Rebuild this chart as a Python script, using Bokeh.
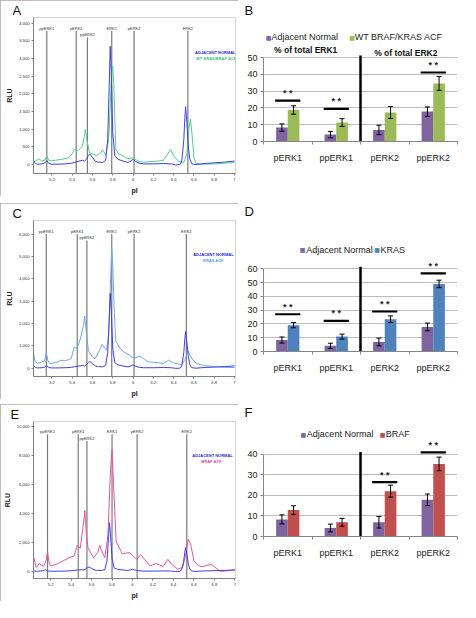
import numpy as np
from bokeh.plotting import figure
from bokeh.models import (Range1d, FixedTicker, NumeralTickFormatter, Label,
                          Whisker, ColumnDataSource, TeeHead, Spacer)
from bokeh.layouts import row, column
from bokeh.embed import file_html
from bokeh.resources import INLINE

FONT = "Liberation Sans"

# ------------------------------------------------------------------ data
peak_names = ["ppERK1", "pERK1", "ppERK2", "ERK1", "pERK2", "ERK2"]
peak_pi_A = [5.15, 5.44, 5.55, 5.79, 6.01, 6.54]
peak_pi_C = [5.145, 5.45, 5.545, 5.79, 6.01, 6.525]
peak_pi_E = [5.17, 5.47, 5.555, 5.80, 6.045, 6.53]

x_tick_vals = [5.2, 5.4, 5.6, 5.8, 6.0, 6.2, 6.4, 6.6, 6.8, 7.0]
x_tick_labels = ["5.2", "5.4", "5.6", "5.8", "6", "6.2", "6.4", "6.6", "6.8", "7"]
y_ticks_A = [0, 500, 1000, 1500, 2000, 2500, 3000, 3500, 4000]
y_ticks_C = [0, 1000, 2000, 3000, 4000, 5000, 6000]
y_ticks_E = [0, 2000, 4000, 6000, 8000, 10000]

# adjacent normal trace (same sample in A, C, E)
normal_pi = [5.02, 5.04, 5.06, 5.10, 5.13, 5.15, 5.17, 5.20, 5.30, 5.38, 5.42, 5.46,
             5.50, 5.52, 5.54, 5.56, 5.575, 5.60, 5.63, 5.66, 5.70, 5.73, 5.75, 5.765,
             5.775, 5.785, 5.80, 5.82, 5.85, 5.90, 5.95, 5.98, 6.00, 6.02, 6.05, 6.10,
             6.20, 6.30, 6.38, 6.42, 6.46, 6.48, 6.50, 6.51, 6.518, 6.53, 6.545, 6.56,
             6.58, 6.62, 6.70, 6.80, 6.90, 7.00]
normal_rlu = [100, 30, 10, 20, 50, 110, 30, 10, 15, 30, 60, 90,
              120, 100, 150, 260, 300, 200, 90, 70, 60, 120, 700, 2200,
              3350, 2600, 900, 250, 150, 100, 60, 100, 150, 100, 50, 20,
              20, 30, 20, -10, 0, 100, 700, 1300, 1640, 1200, 500, 150,
              20, 0, 30, 50, 70, 100]

# WT KRAS/BRAF ACF trace (A)
wt_pi = [5.02, 5.05, 5.07, 5.10, 5.13, 5.15, 5.17, 5.20, 5.30, 5.36, 5.40, 5.42,
         5.46, 5.50, 5.52, 5.53, 5.545, 5.57, 5.60, 5.64, 5.68, 5.70, 5.73, 5.76,
         5.78, 5.79, 5.80, 5.81, 5.83, 5.86, 5.90, 5.95, 6.00, 6.02, 6.06, 6.11,
         6.21, 6.30, 6.34, 6.37, 6.40, 6.45, 6.50, 6.53, 6.55, 6.565, 6.58, 6.60,
         6.62, 6.70, 6.80, 6.90, 7.00]
wt_rlu = [70, 120, 160, 110, 120, 250, 120, 110, 150, 190, 300, 430,
          400, 520, 800, 995, 700, 340, 300, 255, 330, 417, 270, 700,
          2000, 2600, 2790, 2300, 430, 300, 250, 170, 190, 150, 80, 70,
          90, 120, 300, 433, 250, 90, 60, 300, 1000, 1290, 900, 200,
          30, 10, 20, 40, 60]

# KRAS ACF trace (C)
kras_pi = [5.02, 5.035, 5.06, 5.10, 5.13, 5.145, 5.16, 5.18, 5.24, 5.29, 5.33, 5.39,
           5.42, 5.45, 5.48, 5.51, 5.524, 5.54, 5.56, 5.60, 5.625, 5.66, 5.695, 5.72,
           5.74, 5.76, 5.78, 5.79, 5.80, 5.815, 5.83, 5.87, 5.91, 5.96, 6.00, 6.03,
           6.07, 6.11, 6.15, 6.24, 6.30, 6.35, 6.41, 6.48, 6.51, 6.54, 6.56, 6.59,
           6.63, 6.68, 6.78, 6.94, 7.00]
kras_rlu = [650, 280, 210, 280, 350, 714, 350, 200, 250, 355, 330, 420,
            926, 900, 1300, 1900, 2330, 1600, 784, 500, 428, 700, 1071, 900,
            814, 1500, 4200, 5357, 4600, 2500, 1213, 900, 714, 600, 455, 480,
            540, 400, 283, 250, 210, 355, 210, 170, 350, 784, 600, 355,
            200, 140, 70, 30, 30]

# BRAF ACF trace (E)
braf_pi = [5.03, 5.06, 5.09, 5.13, 5.155, 5.17, 5.185, 5.20, 5.26, 5.32, 5.38, 5.43,
           5.46, 5.49, 5.515, 5.535, 5.55, 5.565, 5.62, 5.66, 5.68, 5.70, 5.73, 5.76,
           5.785, 5.80, 5.815, 5.84, 5.90, 5.97, 6.00, 6.04, 6.08, 6.12, 6.17, 6.23,
           6.30, 6.345, 6.38, 6.44, 6.49, 6.52, 6.545, 6.57, 6.60, 6.64, 6.68, 6.77,
           6.82, 6.86, 6.90, 7.00]
braf_rlu = [1120, 270, 537, 340, 700, 1342, 600, 380, 500, 716, 940, 1050,
            1790, 1600, 3000, 4190, 2500, 1610, 940, 1300, 1790, 1400, 940, 2500,
            7000, 8370, 6000, 2060, 1210, 1290, 1100, 830, 1150, 800, 380, 540,
            340, 830, 500, 160, 270, 1200, 2200, 1800, 716, 400, 320, 497,
            200, 0, 20, 100]

# bar charts (% of total ERK1 / ERK2)
categories = ["pERK1", "ppERK1", "pERK2", "ppERK2"]
normal_mean = [8.3, 4.1, 6.9, 17.8]
normal_err = [2.2, 1.9, 2.8, 2.8]
wt_mean = [18.8, 11.3, 17.3, 34.6]
wt_err = [2.5, 2.3, 3.5, 4.1]
kras_mean = [19.1, 10.8, 23.4, 49.0]
kras_err = [1.9, 1.8, 2.4, 2.7]
braf_mean = [12.8, 6.9, 22.0, 35.2]
braf_err = [2.1, 1.9, 2.9, 3.3]
y_ticks_B = [0, 10, 20, 30, 40, 50]
y_ticks_D = [0, 10, 20, 30, 40, 50, 60]
y_ticks_F = [0, 10, 20, 30, 40]
sig_B_idx = [0, 1, 3]
sig_B_y = [24.3, 19.4, 41.1]
sig_D_idx = [0, 1, 2, 3]
sig_D_y = [27.0, 22.2, 29.0, 56.7]
sig_F_idx = [2, 3]
sig_F_y = [26.4, 40.8]

# ------------------------------------------------------------------ colours
NORMAL_C = "#3f3fe6"
WT_C = "#4fd38c"
KRAS_C = "#6aaaf2"
BRAF_C = "#f0529c"
PURPLE = "#8064A2"
GREEN = "#9BBB59"
BLUE = "#4F81BD"
RED = "#C0504D"

LEFT_W, RIGHT_W = 238, 222
TOP = 16   # room for the panel letter (title)


def letter_title(p, letter, offset):
    p.title.text = letter
    p.title.align = "left"
    p.title.offset = offset
    p.title.standoff = 0
    p.title.text_font = FONT
    p.title.text_font_size = "13px"
    p.title.text_font_style = "normal"
    p.title.text_color = "#111111"


# ------------------------------------------------------------------ chromatogram panels
def chrom(height, bottom, left, right, xmap, ymap, frame_ref, acf_pi, acf_rlu,
          acf_color, yticks, peak_pi, lab_ref, legend, letter):
    fx0, fx1, fy0, fy1 = frame_ref  # reference-pixel frame edges
    p = figure(width=LEFT_W, height=height,
               x_range=Range1d(xmap(fx0), xmap(fx1)),
               y_range=Range1d(ymap(fy1), ymap(fy0)),
               output_backend="svg", toolbar_location=None,
               min_border_left=left, min_border_right=right,
               min_border_top=TOP, min_border_bottom=bottom)
    p.styles = {"outline": "1px solid #a9a9a9", "outline-offset": "-1px"}
    letter_title(p, letter, 4 - left)
    p.grid.visible = False
    p.outline_line_color = "#d4d4d4"
    p.axis.axis_line_color = "#808080"
    p.axis.major_tick_line_color = "#808080"
    p.axis.major_tick_out = 2
    p.axis.major_tick_in = 0
    p.axis.minor_tick_line_color = None
    p.axis.major_label_text_font = FONT
    p.axis.major_label_text_font_size = "4.2px"
    p.axis.major_label_text_color = "#333333"
    p.axis.major_label_standoff = 2
    p.axis.axis_label_text_font = FONT
    p.axis.axis_label_text_font_size = "7px"
    p.axis.axis_label_text_font_style = "bold"
    p.axis.axis_label_text_color = "#222222"
    p.xaxis.ticker = FixedTicker(ticks=x_tick_vals)
    p.xaxis.major_label_overrides = dict(zip(x_tick_vals, x_tick_labels))
    p.xaxis.axis_label = "pI"
    p.xaxis.axis_label_standoff = 3
    p.yaxis.ticker = FixedTicker(ticks=yticks)
    p.yaxis.formatter = NumeralTickFormatter(format="0,0")
    p.yaxis.axis_label = "RLU"
    p.yaxis.axis_label_standoff = 3

    y_lo = ymap(fy1)
    lab_y, lab_y_low = ymap(lab_ref[0]), ymap(lab_ref[1])
    top_y, top_y_low = ymap(lab_ref[0] + 3), ymap(lab_ref[1] + 3)
    for nm, px in zip(peak_names, peak_pi):
        low = (nm == "ppERK2")
        p.segment(x0=px, y0=y_lo, x1=px, y1=top_y_low if low else top_y,
                  line_color="#7a7a7a", line_width=1.2)
        p.add_layout(Label(x=px, y=lab_y_low if low else lab_y, text=nm,
                           text_font=FONT, text_font_size="4px",
                           text_color="#333333", text_align="center",
                           text_baseline="middle"))

    p.line(acf_pi, acf_rlu, line_color=acf_color, line_width=1)
    p.line(normal_pi, normal_rlu, line_color=NORMAL_C, line_width=1)

    for (txt, col, rx, ry, align) in legend:
        p.add_layout(Label(x=xmap(rx), y=ymap(ry), text=txt, text_color=col,
                           text_font=FONT, text_font_size="4px",
                           text_font_style="bold", text_align=align,
                           text_baseline="middle"))
    return p


def axA(rx): return 5 + (rx - 29.0) / 105.5
def ayA(ry): return (172.7 - ry) / 0.0369
def ayC(ry): return (378.3 - ry) / 0.02333
def axE(rx): return 5 + (rx - 29.5) / 105.8
def ayE(ry): return (580.7 - ry) / 0.0149


pA = chrom(196, 21, 25, 3, axA, ayA, (31, 241, 19, 182), wt_pi, wt_rlu, WT_C,
           y_ticks_A, peak_pi_A, (30, 37),
           [("ADJACENT NORMAL", "#2a2ad8", 199, 56, "left"),
            ("WT KRAS/BRAF ACF", "#3cc47a", 200, 62, "left")], "A")
pC = chrom(196, 21, 25, 3, axA, ayC, (31, 241, 224, 387), kras_pi, kras_rlu, KRAS_C,
           y_ticks_C, peak_pi_C, (235, 242),
           [("ADJACENT NORMAL", "#2a2ad8", 218, 260, "center"),
            ("KRAS ACF", "#4f9ff0", 218, 266, "center")], "C")
pE = chrom(197, 23, 27, 2, axE, ayE, (33, 241.7, 427, 588), braf_pi, braf_rlu, BRAF_C,
           y_ticks_E, peak_pi_E, (437, 444),
           [("ADJACENT NORMAL", "#2a2ad8", 218, 462, "center"),
            ("BRAF ACF", "#ee3f8a", 217, 468, "center")], "E")


# ------------------------------------------------------------------ bar panels
BL, BR = 25, 3                       # chart borders (px)


def bxr(rx): return (rx - 270.0) / 50.0


def bars(height, ref_top, bottom, yticks, ymap, acf_mean, acf_err, acf_color,
         sig_idx, sig_y, legend, letter, headings=()):
    ymax = yticks[-1]
    yend = ymap(ref_top + TOP)
    p = figure(width=RIGHT_W, height=height, x_range=Range1d(0, len(categories)),
               y_range=Range1d(0, yend), output_backend="svg", toolbar_location=None,
               min_border_left=BL, min_border_right=BR,
               min_border_top=TOP, min_border_bottom=bottom)
    letter_title(p, letter, 6 - BL)
    p.outline_line_color = None
    p.xgrid.visible = False
    p.ygrid.ticker = FixedTicker(ticks=yticks)
    p.ygrid.grid_line_color = "#bcbcbc"
    p.axis.axis_line_color = "#868686"
    p.axis.major_label_text_font = FONT
    p.axis.major_label_text_font_size = "9px"
    p.axis.major_label_text_color = "#222222"
    p.yaxis.ticker = FixedTicker(ticks=yticks)
    p.yaxis.bounds = (0, ymax)
    p.yaxis.major_tick_out = 3
    p.yaxis.major_tick_in = 0
    p.yaxis.major_tick_line_color = "#868686"
    p.yaxis.minor_tick_line_color = None
    p.yaxis.major_label_standoff = 3

    cx = np.arange(len(categories)) + 0.5
    p.xaxis.ticker = FixedTicker(ticks=list(cx), minor_ticks=list(range(len(categories) + 1)))
    p.xaxis.major_label_overrides = dict(zip(list(cx), categories))
    p.xaxis.major_tick_line_color = None
    p.xaxis.minor_tick_out = 3
    p.xaxis.minor_tick_in = 0
    p.xaxis.minor_tick_line_color = "#868686"
    p.xaxis.major_label_standoff = 5

    off, bw = 0.12, 0.24
    p.vbar(x=cx - off, width=bw, top=normal_mean, fill_color=PURPLE, line_color=None)
    p.vbar(x=cx + off, width=bw, top=acf_mean, fill_color=acf_color, line_color=None)
    for xs, m, e in ((cx - off, normal_mean, normal_err), (cx + off, acf_mean, acf_err)):
        m = np.array(m); e = np.array(e)
        src = ColumnDataSource(dict(x=xs, lo=m - e, hi=m + e))
        p.add_layout(Whisker(source=src, base="x", lower="lo", upper="hi",
                             line_color="black", line_width=1, level="annotation",
                             upper_head=TeeHead(size=5, line_color="black", line_width=1),
                             lower_head=TeeHead(size=5, line_color="black", line_width=1)))

    upp = abs(ymap(100) - ymap(101))   # data units per reference pixel
    # divider between ERK1 and ERK2 forms
    p.segment(x0=2, y0=0, x1=2, y1=ymax + 2 * upp, line_color="black", line_width=2.5)

    for i, sy in zip(sig_idx, sig_y):
        p.segment(x0=cx[i] - 0.26, y0=sy, x1=cx[i] + 0.26, y1=sy,
                  line_color="black", line_width=2.2)
        p.add_layout(Label(x=cx[i], y=sy + 7.5 * upp, text="* *", text_font=FONT,
                           text_font_size="9px", text_font_style="bold",
                           text_color="#222222",
                           text_align="center", text_baseline="middle"))
    for (txt, rx, ry) in headings:
        p.add_layout(Label(x=bxr(rx), y=ymap(ry), text=txt, text_color="#111111",
                           text_font=FONT, text_font_size="8.5px", text_font_style="bold",
                           text_align="center", text_baseline="middle"))
    for (kind, txt, col, rx, ry) in legend:
        if kind == "sq":
            p.add_layout(Label(x=bxr(rx), y=ymap(ry), text="\u25A0", text_color=col,
                               text_font="DejaVu Sans", text_font_size="6px",
                               text_align="center", text_baseline="middle"))
        else:
            p.add_layout(Label(x=bxr(rx), y=ymap(ry), text=txt, text_color="#222222",
                               text_font=FONT, text_font_size="9px",
                               text_align="left", text_baseline="middle"))
    return p


def byB(ry): return (147.7 - ry) / 1.688
def byD(ry): return (359.3 - ry) / 1.393
def byF(ry): return (545.0 - ry) / 2.08


pB = bars(201, 7, 60, y_ticks_B, byB, wt_mean, wt_err, GREEN,
          sig_B_idx, sig_B_y,
          [("sq", "", PURPLE, 275.3, 43), ("tx", "Adjacent Normal", None, 278.3, 43),
           ("sq", "", GREEN, 361.3, 43), ("tx", "WT BRAF/KRAS ACF", None, 364, 43)],
          "B",
          headings=[("% of total ERK1", 313.5, 56), ("% of total ERK2", 416.7, 59)])
pD = bars(201, 209, 51, y_ticks_D, byD, kras_mean, kras_err, BLUE,
          sig_D_idx, sig_D_y,
          [("sq", "", PURPLE, 310.3, 256.7), ("tx", "Adjacent Normal", None, 314, 256.7),
           ("sq", "", BLUE, 387, 256.7), ("tx", "KRAS", None, 390.7, 256.7)],
          "D")
pF = bars(199, 411, 65, y_ticks_F, byF, braf_mean, braf_err, RED,
          sig_F_idx, sig_F_y,
          [("sq", "", PURPLE, 311, 442), ("tx", "Adjacent Normal", None, 314.7, 442),
           ("sq", "", RED, 392.7, 442), ("tx", "BRAF", None, 396, 442)],
          "F")

left = column(pA, Spacer(height=7), pC, Spacer(height=5), pE)
right = column(pB, pD, pF)
layout = row(left, right)

open("out.html", "w").write(file_html(layout, INLINE))
